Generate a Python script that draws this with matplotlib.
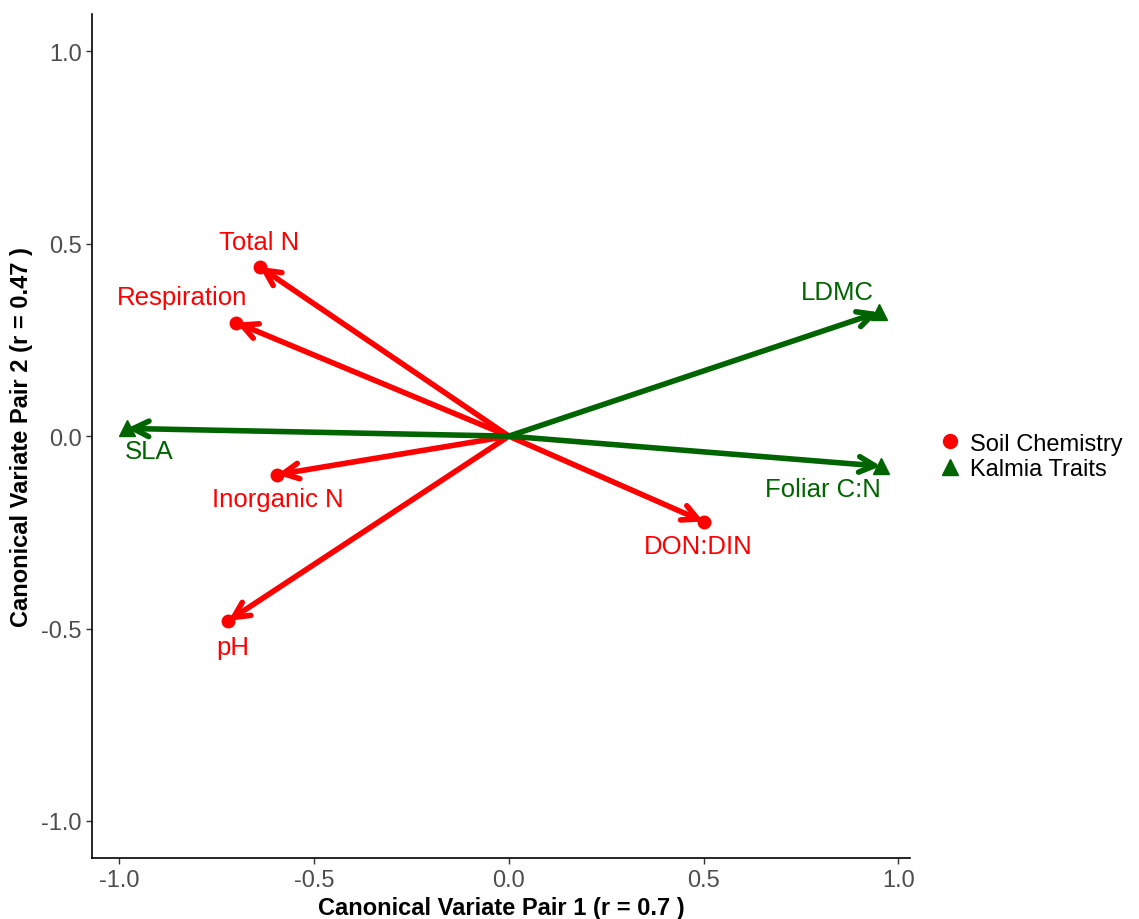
import matplotlib
matplotlib.use("Agg")
import matplotlib.pyplot as plt
from matplotlib.lines import Line2D

plt.rcParams['font.family'] = ['Liberation Sans', 'DejaVu Sans']

# canonical loadings
soil_vars = ["Total N", "Respiration", "Inorganic N", "pH", "DON:DIN"]
soil_x = [-0.64, -0.70, -0.595, -0.72, 0.50]
soil_y = [0.44, 0.295, -0.10, -0.48, -0.222]

trait_vars = ["LDMC", "SLA", "Foliar C:N"]
trait_x = [0.95, -0.98, 0.955]
trait_y = [0.322, 0.02, -0.078]

# label offsets in pixels from the arrow tip
soil_offsets = [(0, 25), (-54, 26), (1, -24), (4, -26), (-5, -24)]
trait_offsets = [(-42, 20), (22, -23), (-58, -23)]

RED = "#FF0000"
GREEN = "#006400"

fig = plt.figure(figsize=(11.39, 9.2), dpi=100)
ax = fig.add_axes([0.0808, 0.066, 0.7182, 0.9177])


def draw_group(xs, ys, names, offsets, color, marker, msize):
    for x, y, name, off in zip(xs, ys, names, offsets):
        ax.annotate("", xy=(x, y), xytext=(0, 0),
                    arrowprops=dict(arrowstyle="->", color=color, lw=4,
                                    shrinkA=0, shrinkB=0, mutation_scale=28))
        ax.annotate(name, xy=(x, y), xytext=off, textcoords="offset pixels",
                    ha="center", va="center", color=color, fontsize=18.5)
    ax.plot(xs, ys, linestyle="none", marker=marker, color=color, markersize=msize)


draw_group(soil_x, soil_y, soil_vars, soil_offsets, RED, "o", 9)
draw_group(trait_x, trait_y, trait_vars, trait_offsets, GREEN, "^", 11)

ax.set_xlim(-1.07, 1.03)
ax.set_ylim(-1.097, 1.097)
ax.set_xticks([-1.0, -0.5, 0.0, 0.5, 1.0])
ax.set_yticks([-1.0, -0.5, 0.0, 0.5, 1.0])
ax.set_xticklabels(["-1.0", "-0.5", "0.0", "0.5", "1.0"])
ax.set_yticklabels(["-1.0", "-0.5", "0.0", "0.5", "1.0"])
ax.tick_params(labelsize=17, labelcolor="#4D4D4D", length=4, width=1, color="#333333")
for side in ["top", "right"]:
    ax.spines[side].set_visible(False)
for side in ["left", "bottom"]:
    ax.spines[side].set_linewidth(1.2)

ax.set_xlabel("Canonical Variate Pair 1 (r = 0.7 )", fontsize=17, fontweight="bold", labelpad=4)
ax.set_ylabel("Canonical Variate Pair 2 (r = 0.47 )", fontsize=17, fontweight="bold", labelpad=6)

handles = [
    Line2D([], [], linestyle="none", marker="o", color=RED, markersize=10),
    Line2D([], [], linestyle="none", marker="^", color=GREEN, markersize=12),
]
ax.legend(handles, ["Soil Chemistry", "Kalmia Traits"], loc="center left",
          bbox_to_anchor=(1.008, 0.476), frameon=False, fontsize=17,
          handletextpad=0.35, labelspacing=0.15, handlelength=1.0)

fig.savefig("out.png", dpi=100)
